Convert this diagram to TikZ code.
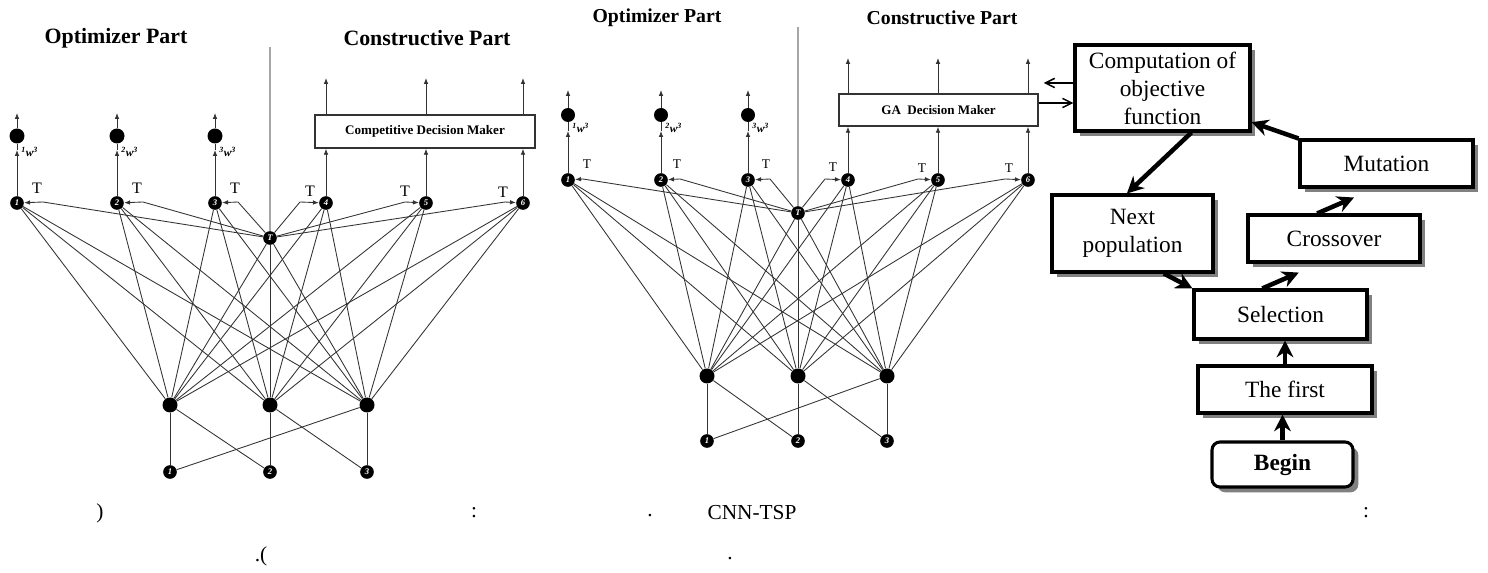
\documentclass[tikz,border=0pt]{standalone}
\usepackage{fontspec}
\setmainfont{Liberation Serif}
\usetikzlibrary{arrows.meta,shadows,calc}
\begin{document}
\begin{tikzpicture}[x=0.75pt,y=-0.75pt,
  net/.style={draw=black!80, line width=0.65pt},
  divider/.style={draw=black!35, line width=1pt},
  narrow/.style={net, -{Latex[length=4.5pt,width=3.5pt]}},
  tnode/.style={circle, fill=black, inner sep=0pt, minimum size=10.25pt, text=white, font=\fontsize{6.5}{7}\selectfont\bfseries\itshape},
  hnode/.style={circle, fill=black, inner sep=0pt, minimum size=11.25pt},
  odot/.style={circle, fill=black, inner sep=0pt, minimum size=11.25pt},
  tlabL/.style={font=\fontsize{12}{14}\selectfont},
  tlabM/.style={font=\fontsize{10}{12}\selectfont},
  wlab/.style={font=\fontsize{8.5}{10}\selectfont\bfseries\itshape, anchor=west, inner sep=0pt},
  titleL/.style={font=\fontsize{16.4}{19}\selectfont\bfseries},
  titleM/.style={font=\fontsize{14.8}{17}\selectfont\bfseries},
  dmbox/.style={draw=black!80, line width=1.1pt, fill=white, inner sep=0pt, font=\fontsize{9.8}{11}\selectfont\bfseries},
  fbox/.style={draw, line width=2.3pt, fill=white, align=center, inner sep=0pt,
     font=\fontsize{17.5}{21}\selectfont,
     drop shadow={shadow xshift=4pt, shadow yshift=-4pt, fill=black!50, opacity=1}},
  farrow/.style={line width=3.4pt, -{Stealth[length=12.5pt,width=12.5pt,inset=4pt]}},
  sarrow/.style={line width=1.1pt, -{Straight Barb[length=7pt,width=7pt]}},
  captxt/.style={font=\fontsize{16}{19}\selectfont, inner sep=0pt}
]
\useasboundingbox (0,0) rectangle (1488,573);

%================ LEFT NETWORK =================
\node[titleL] (LtO) at (116,38) {Optimizer Part};
\node[titleL] (LtC) at (427,38) {Constructive Part};
\foreach \i/\x in {1/17,2/117,3/215,4/326,5/426,6/523}
  \node[tnode] (L\i) at (\x,203) {\i};
\node[tnode] (LT) at (270,238) {T};
\foreach \i/\x in {1/170,2/270,3/367}{
  \node[hnode] (LH\i) at (\x,405) {};
  \node[tnode] (LI\i) at (\x,472) {\i};
}
\coordinate (LDtop) at (270,47);
\draw[divider] (LDtop) -- (LT);
\foreach \a in {1,2,3,4,5,6,T}
  \foreach \b in {1,2,3}
    \draw[net] (L\a) -- (LH\b);
\draw[net] (LI1) -- (LH1); \draw[net] (LI1) -- (LH3);
\draw[net] (LI2) -- (LH1); \draw[net] (LI2) -- (LH2);
\draw[net] (LI3) -- (LH2); \draw[net] (LI3) -- (LH3);
% outputs of optimizer part
\foreach \i/\x in {1/17,2/117,3/215}{
  \node[odot] (LO\i) at (\x,136) {};
  \coordinate (LA\i) at (\x,113);
  \coordinate (LM\i) at (\x,150);
  \draw[narrow] (L\i) -- (LM\i);
  \draw[net] (LM\i) -- (LO\i);
  \draw[narrow] (LO\i) -- (LA\i);
  \node[wlab] (LW\i) at (\x+4,152) {\textsuperscript{\i}w\textsuperscript{3}};
}
% decision maker
\node[dmbox, minimum width=165pt, minimum height=24.75pt] (LB) at (425,131.5) {Competitive Decision Maker};
\foreach \i/\x in {4/326,5/426,6/523}{
  \coordinate (LU\i) at (\x,78);
  \draw[narrow] (L\i) -- (L\i |- LB.south);
  \draw[narrow] (L\i |- LB.north) -- (LU\i);
}
% T connections
\foreach \i/\bx/\tx/\ty in {1/43/37/188,2/143/137/188,3/238/235/188,4/300/310/191,5/405/405/191,6/505/503/192}{
  \coordinate (LK\i) at (\bx,202);
  \draw[net] (LT) -- (LK\i);
  \draw[narrow] (LK\i) -- (L\i);
  \node[tlabL] (LTl\i) at (\tx,\ty) {T};
}

%================ MIDDLE NETWORK =================
\node[titleM] (MtO) at (657,18) {Optimizer Part};
\node[titleM] (MtC) at (942,18) {Constructive Part};
\foreach \i/\x in {1/568,2/661,3/748,4/848,5/938,6/1028}
  \node[tnode] (M\i) at (\x,180) {\i};
\node[tnode] (MT) at (798,213) {T};
\foreach \i/\x in {1/707,2/798,3/887}{
  \node[hnode] (MH\i) at (\x,376) {};
  \node[tnode] (MI\i) at (\x,441) {\i};
}
\coordinate (MDtop) at (798,27);
\draw[divider] (MDtop) -- (MT);
\foreach \a in {1,2,3,4,5,6,T}
  \foreach \b in {1,2,3}
    \draw[net] (M\a) -- (MH\b);
\draw[net] (MI1) -- (MH1); \draw[net] (MI1) -- (MH3);
\draw[net] (MI2) -- (MH1); \draw[net] (MI2) -- (MH2);
\draw[net] (MI3) -- (MH2); \draw[net] (MI3) -- (MH3);
\foreach \i/\x in {1/568,2/661,3/748}{
  \node[odot, minimum size=10.5pt] (MO\i) at (\x,115) {};
  \coordinate (MA\i) at (\x,90);
  \coordinate (MM\i) at (\x,131);
  \draw[narrow] (M\i) -- (MM\i);
  \draw[net] (MM\i) -- (MO\i);
  \draw[narrow] (MO\i) -- (MA\i);
  \node[wlab] (MW\i) at (\x+4,128) {\textsuperscript{\i}w\textsuperscript{3}};
}
\node[dmbox, minimum width=149.25pt, minimum height=24pt] (MB) at (938.5,110) {GA\ \ Decision Maker};
\foreach \i/\x in {4/848,5/938,6/1028}{
  \coordinate (MU\i) at (\x,58);
  \draw[narrow] (M\i) -- (M\i |- MB.south);
  \draw[narrow] (M\i |- MB.north) -- (MU\i);
}
\foreach \i/\bx/\tx/\ty in {1/583/587/164,2/680/677/164,3/770/766/164,4/825/833/167,5/918/922/168,6/1005/1009/168}{
  \coordinate (MK\i) at (\bx,179);
  \draw[net] (MT) -- (MK\i);
  \draw[narrow] (MK\i) -- (M\i);
  \node[tlabM] (MTl\i) at (\tx,\ty) {T};
}

%================ FLOWCHART =================
\node[fbox, minimum width=131.25pt, minimum height=64.5pt] (Comp) at (1162.5,88) {Computation of\\objective\\function};
\node[fbox, minimum width=129.75pt, minimum height=35.25pt] (Mut) at (1386.5,163.5) {Mutation};
\node[fbox, minimum width=120.75pt, minimum height=57.75pt] (Next) at (1132.5,233.5) {Next\\population};
\node[fbox, minimum width=129pt, minimum height=35.25pt] (Cross) at (1334,238.5) {Crossover};
\node[fbox, minimum width=129.75pt, minimum height=36.75pt] (Sel) at (1280.5,314.5) {Selection};
\node[fbox, minimum width=130.5pt, minimum height=35.25pt] (First) at (1285,389.5) {The first};
\node[fbox, rounded corners=6pt, minimum width=105.75pt, minimum height=33.75pt, font=\fontsize{17.5}{21}\selectfont\bfseries] (Begin) at (1282.5,464.5) {Begin};

\draw[farrow] (Comp.-57) -- (Next.98);
\draw[farrow] (Mut.north west) -- (Comp.-21);
\draw[farrow, shorten >=17pt] (Cross.124) -- (Mut.245);
\draw[farrow, shorten >=17pt] (Sel.125) -- (Cross.240);
\draw[farrow] (Next.-52) -- (Sel.north west);
\draw[farrow] (First.north) -- (First.north |- Sel.south);
\draw[farrow] (Begin.north) -- (Begin.north |- First.south);

\draw[sarrow] ($(Comp.west)+(0,-5)$) -- ($(MB.east)+(5,-27)$);
\draw[sarrow] ($(MB.east)+(0,-7)$) -- ($(Comp.west)+(0,15)$);

%================ CAPTIONS =================
\node[captxt] (c1) at (100,513) {)};
\node[captxt] (c2) at (474,513) {:};
\node[captxt] (c3) at (650,516) {.};
\node[captxt] (c4) at (752,513) {CNN-TSP};
\node[captxt] (c5) at (1366,513) {:};
\node[captxt] (c6) at (261,556) {.(};
\node[captxt] (c7) at (730,559) {.};
\end{tikzpicture}
\end{document}
